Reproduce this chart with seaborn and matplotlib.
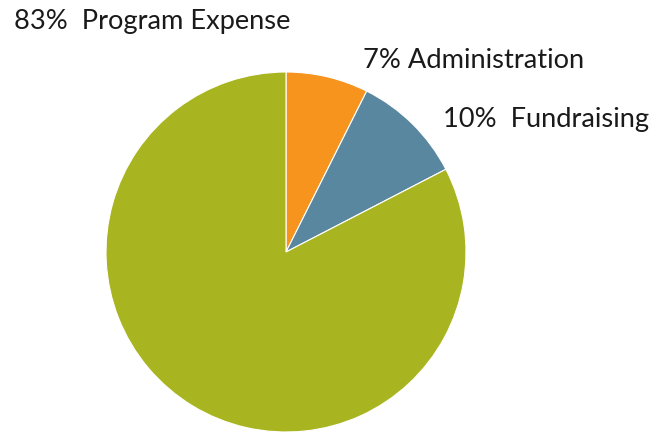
from matplotlib import pyplot as plt
import seaborn as sns

categories = ["Administration", "Fundraising", "Program Expense"]
# wedge sizes (labels are rounded)
shares = [7.4, 10.0, 82.6]
label_texts = ["7% Administration", "10%  Fundraising", "83%  Program Expense"]
colors = ["#F7941E", "#5A87A0", "#A9B520"]

sns.set_style("white")
plt.rcParams['font.family'] = ['Lato', 'DejaVu Sans']

fig = plt.figure(figsize=(6.54, 4.32), dpi=100)
ax = fig.add_axes([0, 0, 1, 1])

# pie in pixel units, starting at 12 o'clock and going clockwise
ax.pie(shares, colors=colors, startangle=90, counterclock=False,
       center=(286, 180), radius=180, frame=True,
       wedgeprops=dict(edgecolor="white", linewidth=0.8))
ax.set_xlim(0, 654)
ax.set_ylim(0, 432)
ax.set_axis_off()

# label positions (left edge, vertical centre) in pixels from top-left
label_pos = [(363, 60), (443, 120), (14, 22)]
for txt, (x, y) in zip(label_texts, label_pos):
    ax.text(x, 432 - y, txt, fontsize=19.6, color="#1a1a1a", ha="left", va="center")

plt.savefig("out.png", dpi=100)
